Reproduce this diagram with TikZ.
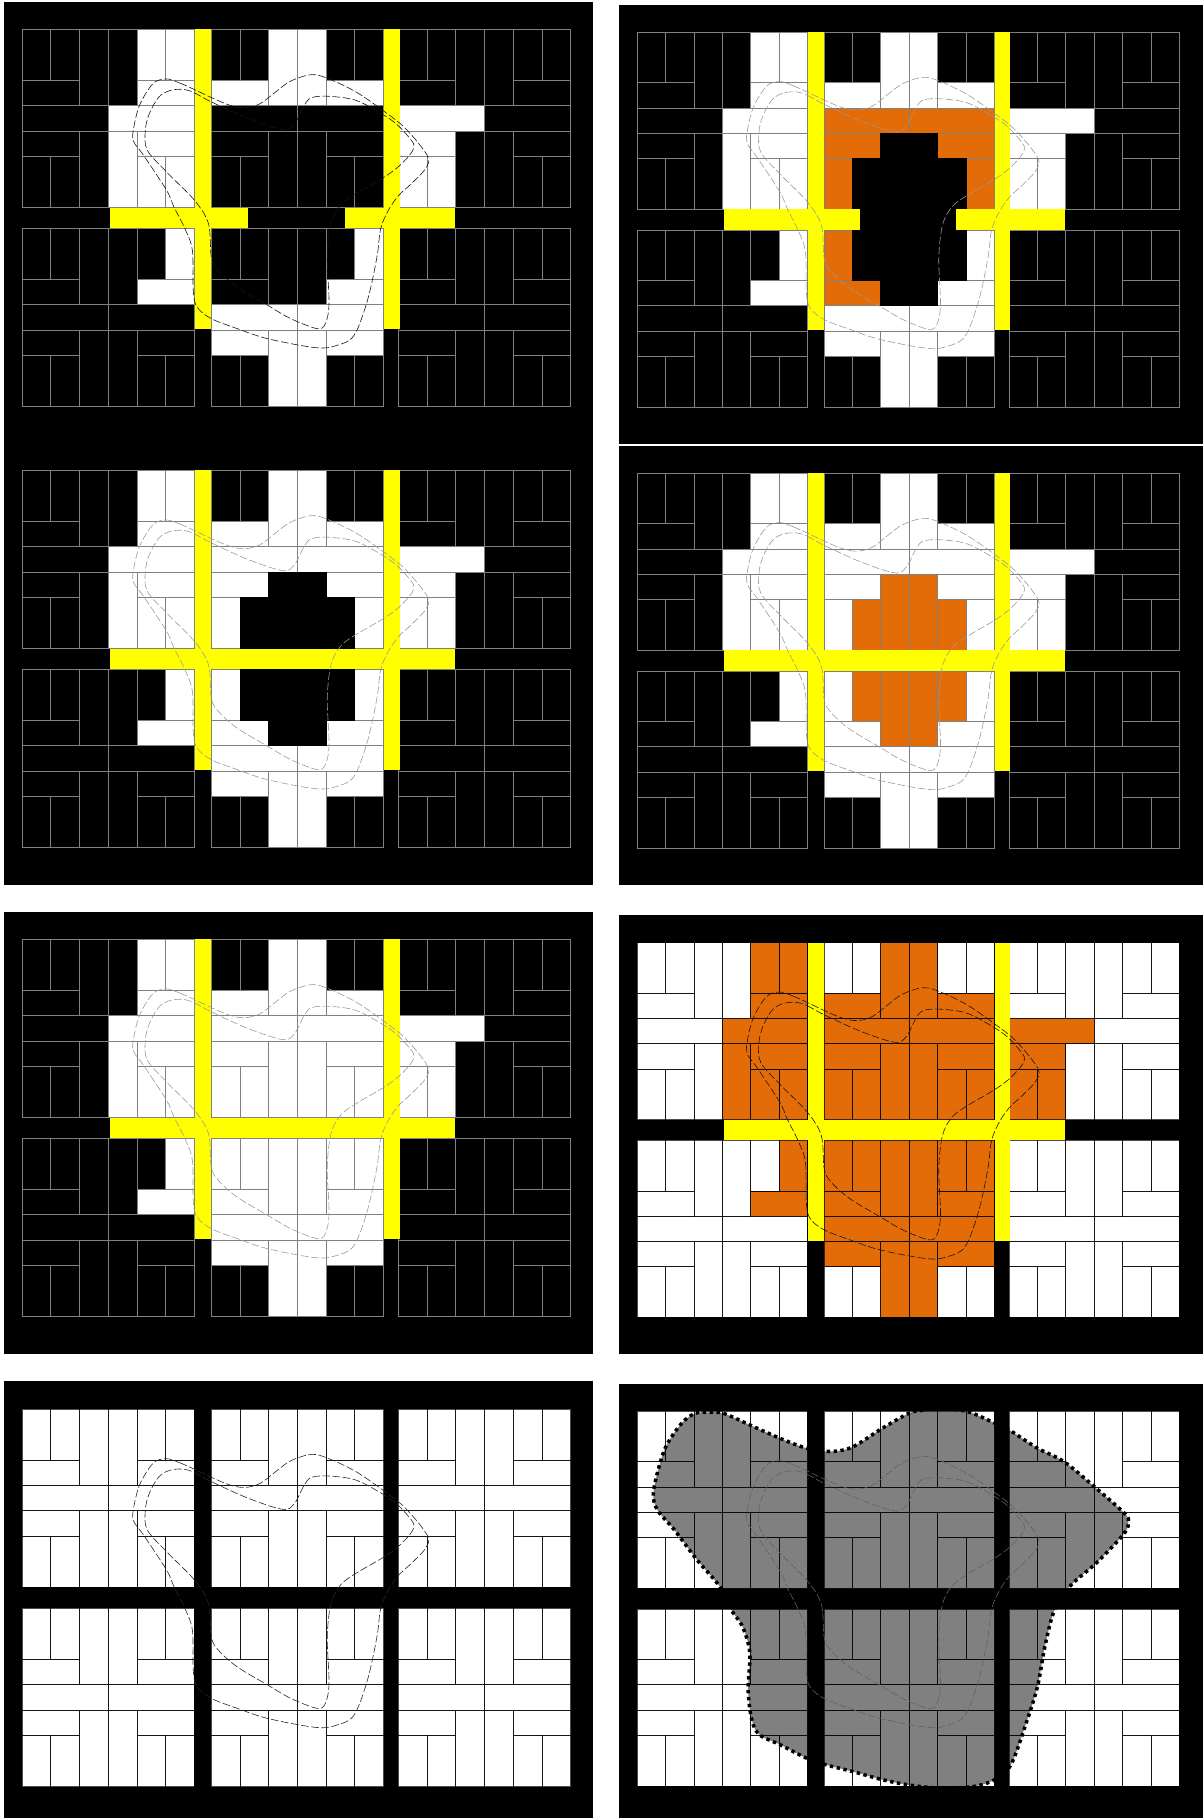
\documentclass[tikz,border=0pt]{standalone}
\usepackage{xcolor}
\usepackage{tikz}
\definecolor{tileorange}{HTML}{E36C09}
\definecolor{baryellow}{HTML}{FFFF00}
\definecolor{blobgray}{HTML}{808080}

% one block is 6 x 7 units, its bricks by letter
\newcommand{\brickdef}[5]{\expandafter\def\csname brick#1\endcsname{(#2,#3) rectangle (#4,#5)}}
\brickdef{a}{0}{0}{1}{2}
\brickdef{b}{1}{0}{2}{2}
\brickdef{c}{0}{2}{2}{3}
\brickdef{d}{2}{0}{3}{3}
\brickdef{e}{3}{0}{4}{3}
\brickdef{f}{4}{0}{5}{2}
\brickdef{g}{5}{0}{6}{2}
\brickdef{h}{4}{2}{6}{3}
\brickdef{i}{0}{3}{3}{4}
\brickdef{j}{3}{3}{6}{4}
\brickdef{k}{0}{4}{2}{5}
\brickdef{l}{0}{5}{1}{7}
\brickdef{m}{1}{5}{2}{7}
\brickdef{n}{2}{4}{3}{7}
\brickdef{o}{3}{4}{4}{7}
\brickdef{p}{4}{4}{6}{5}
\brickdef{q}{4}{5}{5}{7}
\brickdef{r}{5}{5}{6}{7}
\def\allbricks{a,b,c,d,e,f,g,h,i,j,k,l,m,n,o,p,q,r}

% block offsets
\def\bTL{0,0}
\def\bTM{6.59,0}
\def\bTR{13.11,0}
\def\bBL{0,7.82}
\def\bBM{6.59,7.82}
\def\bBR{13.11,7.82}

\newcommand{\paintbricks}[3]{%
  \edef\bricklist{#3}%
  \foreach \bk in \bricklist {%
    \edef\brickpath{\csname brick\bk\endcsname}%
    \fill[#1,shift={(#2)}] \brickpath;
  }}
\newcommand{\tilegrid}[1]{%
  \foreach \blx/\bly in {0/0,6.59/0,13.11/0,0/7.82,6.59/7.82,13.11/7.82} {%
    \foreach \bk in \allbricks {%
      \edef\brickpath{\csname brick\bk\endcsname}%
      \draw[tileline,#1,shift={(\blx,\bly)}] \brickpath;
    }}}
\newcommand{\whiteblocks}{%
  \paintbricks{white}{\bTL}{\allbricks}
  \paintbricks{white}{\bTM}{\allbricks}
  \paintbricks{white}{\bTR}{\allbricks}
  \paintbricks{white}{\bBL}{\allbricks}
  \paintbricks{white}{\bBM}{\allbricks}
  \paintbricks{white}{\bBR}{\allbricks}}
% the white ring round the middle block, used by the upper panels
\newcommand{\ringbricks}{%
  \paintbricks{white}{\bTL}{f,g,h,j,o,p,q,r}
  \paintbricks{white}{\bTR}{i,k,l,m}
  \paintbricks{white}{\bBL}{g,h}}
% the hole in the middle has no lines
\newcommand{\holebricks}{%
  \paintbricks{holefill}{\bTM}{m,n,o,q}
  \paintbricks{holefill}{\bBM}{b,d,e,f}}
\newcommand{\barsopen}{%
  \fill[yellowbar] (6.03,0) rectangle (6.59,11.78);
  \fill[yellowbar] (12.62,0) rectangle (13.15,11.78);
  \fill[yellowbar] (3.05,7) rectangle (7.87,7.82);
  \fill[yellowbar] (11.25,7) rectangle (15.09,7.82);}
\newcommand{\barsclosed}{%
  \fill[yellowbar] (6.03,0) rectangle (6.59,11.78);
  \fill[yellowbar] (12.62,0) rectangle (13.15,11.78);
  \fill[yellowbar] (3.05,7) rectangle (15.09,7.82);}

\def\curveouter{plot[smooth cycle,tension=0.55] coordinates {
  (5.03,1.95) (5.49,2.11) (5.99,2.36) (6.59,2.68) (7.23,2.98) (7.76,3.08) (8.29,2.92)
  (8.83,2.46) (9.36,2.03) (10.09,1.78) (10.69,1.95) (11.63,2.46) (12.56,3.18) (13.36,3.9)
  (14.12,4.97) (14.05,5.47) (13.56,6.06) (13.12,6.52) (12.76,7.1) (12.49,7.83) (12.36,8.94)
  (12.03,10.64) (11.56,12.02) (10.96,12.41) (10.23,12.5) (8.56,12.15) (7.49,11.75) (6.59,11.36)
  (6.09,10.9) (5.96,10.25) (5.93,8.68) (5.67,7.83) (5.29,6.98) (5.03,6.32) (4.23,4.95)
  (3.89,4.42) (3.87,3.97) (4.09,2.98) (4.56,2.13)}}
\def\curveinner{plot[smooth cycle,tension=0.55] coordinates {
  (5.63,2.36) (5.99,2.49) (6.59,2.85) (7.89,3.51) (9.09,3.94) (9.49,3.7) (9.83,2.98)
  (10.09,2.68) (10.69,2.63) (11.63,2.79) (12.56,3.34) (13.09,3.77) (13.56,4.36) (13.65,4.62)
  (13.49,4.95) (13.09,5.41) (12.56,5.84) (11.63,6.45) (11.09,6.91) (10.76,7.63) (10.63,8.94)
  (10.69,10.77) (10.56,11.56) (10.27,11.75) (9.36,11.36) (8.56,10.84) (7.49,10.12) (6.83,9.46)
  (6.59,8.94) (6.49,7.63) (6,6.71) (5.09,5.67) (4.36,4.75) (4.29,3.97) (4.43,3.31)
  (4.76,2.66) (5.16,2.4)}}
\def\curveblob{plot[smooth cycle,tension=0.55] coordinates {
  (2.51,0.04) (3.04,0.08) (3.97,0.54) (5.04,1.07) (5.97,1.46) (6.77,1.59) (7.57,1.42)
  (8.64,0.67) (9.57,0.08) (9.97,-0.03) (10.64,-0.12) (11.64,0.01) (12.6,0.47) (13.17,0.78)
  (14.11,1.46) (15.04,1.99) (16.11,2.98) (17.17,4.03) (17.31,4.36) (17.17,4.82) (16.24,5.94)
  (15.24,6.93) (14.71,7.85) (14.37,9.3) (14.11,10.88) (13.71,12.33) (13.17,13.98) (12.6,14.57)
  (11.84,14.84) (10.64,14.9) (9.57,14.78) (8.64,14.57) (7.57,14.24) (6.64,13.98) (5.97,13.72)
  (5.04,13.19) (4.31,12.79) (4.04,12.2) (3.91,11.01) (3.97,9.56) (3.71,8.51) (3.31,7.85)
  (2.91,6.93) (2.11,5.88) (1.31,4.69) (0.71,3.9) (0.57,3.24) (0.77,2.19) (1.04,1.33)
  (1.57,0.47) (2.04,0.08)}}
\newcommand{\outlines}[1]{%
  \draw[maskline,draw=#1] \curveouter;
  \draw[maskline,draw=#1] \curveinner;}

\begin{document}
\begin{tikzpicture}[
    x=0.03cm, y=-0.03cm,
    tileline/.style={line width=0.75pt},
    greyline/.style={draw=black!50},
    darkline/.style={draw=black, draw opacity=0.7},
    maskline/.style={line width=0.5pt, dash pattern=on 6.5pt off 2.2pt},
    holefill/.style={fill=black, draw=black, line width=0.8pt},
    yellowbar/.style={fill=baryellow},
    panelleft/.style 2 args={shift={(#1,#2)}, x=0.861cm, y=-0.7641cm},
    panelright/.style 2 args={shift={(#1,#2)}, x=0.8511cm, y=-0.7584cm}
]
\useasboundingbox (0,0) rectangle (1203,1818);
\fill[white] (0,0) rectangle (1203,1818);
% black backgrounds
\fill[black] (3.8,2) rectangle (593,885);
\fill[black] (3.8,912) rectangle (593,1353.7);
\fill[black] (3.8,1381) rectangle (593,1818);
\fill[black] (619,5) rectangle (1203,444);
\fill[black] (619,446) rectangle (1203,885);
\fill[black] (619,915) rectangle (1203,1353.7);
\fill[black] (619,1384) rectangle (1203,1818);

% first row, left
\begin{scope}[panelleft={22.2}{29.3}]
\ringbricks
\paintbricks{white}{\bTM}{c,d,e,h}
\paintbricks{white}{\bBM}{g,h,i,j,k,n,o,p}
\tilegrid{greyline}
\barsopen
\outlines{black!92}
\end{scope}

% first row, right
\begin{scope}[panelright={637.2}{32.3}]
\ringbricks
\paintbricks{white}{\bTM}{c,d,e,h}
\paintbricks{tileorange}{\bTM}{i,j,k,l,p,r}
\paintbricks{white}{\bBM}{g,h,i,j,k,n,o,p}
\paintbricks{tileorange}{\bBM}{a,c}
\tilegrid{greyline}
\holebricks
\barsopen
\outlines{black!40}
\end{scope}

% second row, left
\begin{scope}[panelleft={22.2}{470.3}]
\ringbricks
\paintbricks{white}{\bTM}{c,d,e,h,i,j,k,l,p,r}
\paintbricks{white}{\bBM}{a,c,g,h,i,j,k,n,o,p}
\tilegrid{greyline}
\holebricks
\barsclosed
\outlines{black!40}
\end{scope}

% second row, right
\begin{scope}[panelright={637.2}{473.3}]
\ringbricks
\paintbricks{white}{\bTM}{c,d,e,h,i,j,k,l,p,r}
\paintbricks{tileorange}{\bTM}{m,n,o,q}
\paintbricks{white}{\bBM}{a,c,g,h,i,j,k,n,o,p}
\paintbricks{tileorange}{\bBM}{b,d,e,f}
\tilegrid{greyline}
\barsclosed
\outlines{black!40}
\end{scope}

% third row, left
\begin{scope}[panelleft={22.2}{939.3}]
\ringbricks
\paintbricks{white}{\bTM}{c,d,e,h,i,j,k,l,m,n,o,p,q,r}
\paintbricks{white}{\bBM}{a,b,c,d,e,f,g,h,i,j,k,n,o,p}
\tilegrid{greyline}
\barsclosed
\outlines{black!40}
\end{scope}

% third row, right
\begin{scope}[panelright={637.2}{942.7}]
\whiteblocks
\paintbricks{tileorange}{\bTL}{f,g,h,j,o,p,q,r}
\paintbricks{tileorange}{\bTR}{i,k,l,m}
\paintbricks{tileorange}{\bBL}{g,h}
\paintbricks{tileorange}{\bTM}{c,d,e,h,i,j,k,l,m,n,o,p,q,r}
\paintbricks{tileorange}{\bBM}{a,b,c,d,e,f,g,h,i,j,k,n,o,p}
\tilegrid{darkline}
\barsclosed
\outlines{black!92}
\end{scope}

% fourth row, left
\begin{scope}[panelleft={22.2}{1409}]
\whiteblocks
\tilegrid{darkline}
\outlines{black!85}
\end{scope}

% fourth row, right
\begin{scope}[panelright={637.2}{1411.3}]
\whiteblocks
\begin{scope}
\clip (0,0) rectangle (6,7) (6.59,0) rectangle (12.59,7) (13.11,0) rectangle (19.11,7)
      (0,7.82) rectangle (6,14.82) (6.59,7.82) rectangle (12.59,14.82) (13.11,7.82) rectangle (19.11,14.82);
\fill[blobgray] \curveblob;
\end{scope}
\tilegrid{darkline}
\draw[black, line width=3pt, dash pattern=on 2.9pt off 3pt] \curveblob;
\outlines{black!62}
\end{scope}
\end{tikzpicture}
\end{document}
